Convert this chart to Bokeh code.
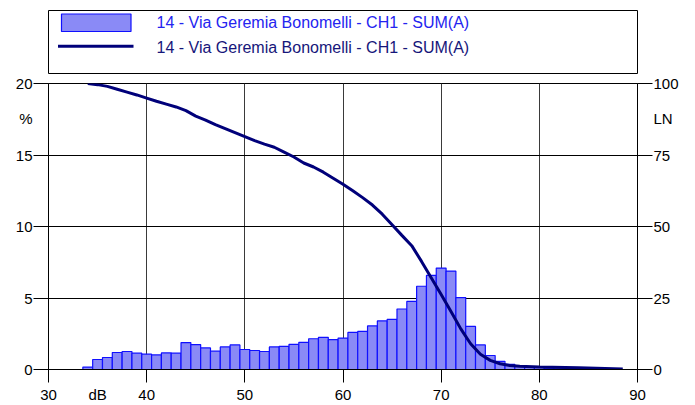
from bokeh.plotting import figure
from bokeh.models import Range1d, LinearAxis, FixedTicker, Grid
from bokeh.layouts import column
from bokeh.embed import file_html
from bokeh.resources import INLINE
from bokeh.core.properties import value

# ---------------- data ----------------
series_name = "14 - Via Geremia Bonomelli - CH1 - SUM(A)"

db_classes = [34, 35, 36, 37, 38, 39, 40, 41, 42, 43, 44, 45, 46, 47, 48, 49,
              50, 51, 52, 53, 54, 55, 56, 57, 58, 59, 60, 61, 62, 63, 64, 65,
              66, 67, 68, 69, 70, 71, 72, 73, 74, 75, 76, 77, 78, 79, 80, 81, 82]
percent = [0.17, 0.70, 0.84, 1.19, 1.26, 1.14, 1.07, 1.02, 1.16, 1.14, 1.88, 1.74,
           1.51, 1.28, 1.58, 1.72, 1.40, 1.33, 1.26, 1.58, 1.62, 1.76, 1.90, 2.15,
           2.25, 2.09, 2.20, 2.59, 2.66, 3.05, 3.40, 3.51, 4.23, 4.76, 5.82, 6.58,
           7.09, 6.88, 5.03, 3.01, 1.72, 0.98, 0.57, 0.36, 0.27, 0.20, 0.15, 0.10, 0.05]

ln_db = [34, 35, 36, 37, 38, 39, 40, 41, 42, 43, 44, 45, 46, 47, 48, 49, 50, 51,
         52, 53, 54, 55, 56, 57, 58, 59, 60, 61, 62, 63, 64, 65, 66, 67, 68, 69,
         70, 71, 72, 73, 74, 75, 76, 77, 78, 80, 84, 88.5]
ln_values = [100, 99.6, 99.0, 98.0, 97.0, 96.0, 94.9, 93.8, 92.8, 91.8, 90.5, 88.6,
             87.2, 85.6, 84.2, 82.8, 81.4, 80.0, 78.8, 77.7, 76.0, 74.3, 72.2, 70.8,
             69.0, 66.9, 64.8, 62.5, 60.1, 57.5, 54.3, 50.6, 46.9, 43.3, 37.8, 32.0,
             26.2, 20.3, 14.2, 9.0, 5.3, 3.2, 2.0, 1.4, 1.1, 0.9, 0.6, 0.2]

x_ticks = [30, 40, 50, 60, 70, 80, 90]
pct_ticks = [0, 5, 10, 15, 20]
ln_ticks = [0, 25, 50, 75, 100]

# unit captions and where they sit on their axes
x_unit, x_unit_at = "dB", 35
pct_unit, pct_unit_at = "%", 17.54
ln_unit, ln_unit_at = "LN", 87.7

# ---------------- styles ----------------
FONT = "Liberation Sans"
BAR_FILL = "#8a8af6"
BAR_LINE = "#1010ff"
LN_COLOR = "#00007a"
W = 690
BL, BR = 48, 53   # left / right borders -> frame spans x 48..637

# ---------------- legend figure ----------------
leg = figure(width=W, height=74, x_range=Range1d(BL, W - BR), y_range=Range1d(73, 10),
             toolbar_location=None, output_backend="svg",
             min_border_left=BL, min_border_right=BR, min_border_top=10, min_border_bottom=1,
             x_axis_type=None, y_axis_type=None,
             outline_line_color="black", outline_line_width=1)
leg.quad(left=[61], right=[130.5], top=[13.5], bottom=[31],
         fill_color=BAR_FILL, line_color=BAR_LINE, line_width=1.2)
leg.line(x=[57.5, 133], y=[45.7, 45.7], line_color=LN_COLOR, line_width=3)
leg.text(x=[156], y=[21.5], text=[series_name], text_font=value(FONT),
         text_font_size="16px", text_color="#2424f0", text_baseline="middle")
leg.text(x=[156], y=[46.5], text=[series_name], text_font=value(FONT),
         text_font_size="16px", text_color="#16167a", text_baseline="middle")

# ---------------- main figure ----------------
p = figure(width=W, height=331, x_range=Range1d(30, 90), y_range=Range1d(0, 20),
           toolbar_location=None, output_backend="svg",
           x_axis_type=None, y_axis_type=None,
           min_border_left=BL, min_border_right=BR, min_border_top=9, min_border_bottom=33,
           outline_line_color="black", outline_line_width=1)
p.extra_y_ranges = {"ln": Range1d(0, 100)}


def tick_axis(ticks, tick_out, **kw):
    """Axis that draws only the tick marks (labels are drawn by label_axis)."""
    ax = LinearAxis(ticker=FixedTicker(ticks=ticks), **kw)
    ax.major_tick_out = tick_out
    ax.major_tick_in = 0
    ax.minor_tick_out = 0
    ax.minor_tick_in = 0
    ax.major_tick_line_color = "black"
    ax.axis_line_color = "black"
    ax.major_label_overrides = {t: "" for t in ticks}
    ax.major_label_text_font_size = "1px"
    ax.major_label_standoff = 0
    return ax


def label_axis(ticks, overrides, standoff, **kw):
    """Axis that draws only the tick labels (incl. the unit caption)."""
    ax = LinearAxis(ticker=FixedTicker(ticks=ticks), **kw)
    ax.major_tick_out = 0
    ax.major_tick_in = 0
    ax.minor_tick_out = 0
    ax.minor_tick_in = 0
    ax.major_tick_line_color = None
    ax.axis_line_color = None
    ax.major_label_overrides = overrides
    ax.major_label_text_font = FONT
    ax.major_label_text_font_size = "15px"
    ax.major_label_text_color = "black"
    ax.major_label_standoff = standoff
    return ax


# bottom
p.add_layout(tick_axis(x_ticks, 13), "below")
p.add_layout(label_axis(x_ticks + [x_unit_at], {x_unit_at: x_unit}, 3), "below")
# left
p.add_layout(tick_axis(pct_ticks, 15), "left")
p.add_layout(label_axis(pct_ticks + [pct_unit_at], {pct_unit_at: pct_unit}, 1), "left")
# right (LN)
p.add_layout(tick_axis(ln_ticks, 15, y_range_name="ln"), "right")
p.add_layout(label_axis(ln_ticks + [ln_unit_at], {ln_unit_at: ln_unit}, 1,
                        y_range_name="ln"), "right")

p.add_layout(Grid(dimension=0, ticker=FixedTicker(ticks=x_ticks),
                  grid_line_color="#3a3a3a", grid_line_width=1))
p.add_layout(Grid(dimension=1, ticker=FixedTicker(ticks=pct_ticks),
                  grid_line_color="black", grid_line_width=1))

p.vbar(x=db_classes, top=percent, bottom=0, width=1,
       fill_color=BAR_FILL, line_color=BAR_LINE, line_width=1.2)
p.line(x=ln_db, y=ln_values, y_range_name="ln", line_color=LN_COLOR, line_width=3)

layout = column(leg, p, spacing=0)
open("out.html", "w").write(file_html(layout, INLINE))
